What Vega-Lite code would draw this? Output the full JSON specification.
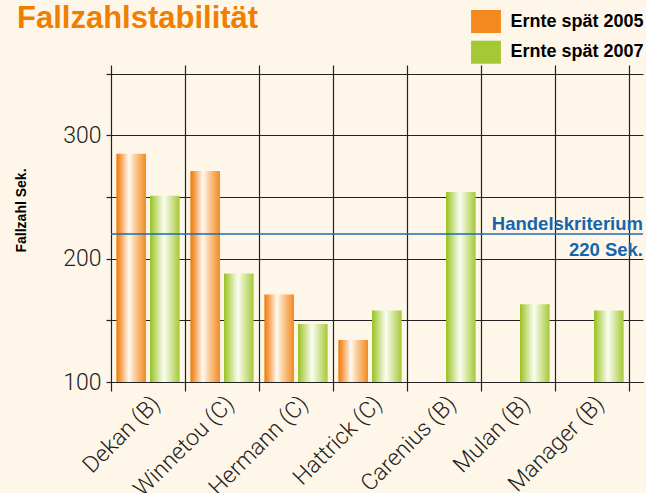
{
  "$schema": "https://vega.github.io/schema/vega-lite/v6.json",
  "autosize": {"type": "none"},
  "padding": {"left": 111, "top": 65, "right": 3, "bottom": 111},
  "width": 532,
  "height": 317,
  "background": "#fef7e9",
  "title": {
    "text": "Fallzahlstabilität",
    "anchor": "start",
    "frame": "group",
    "dx": -94,
    "offset": -49,
    "baseline": "alphabetic",
    "font": "Liberation Sans",
    "fontSize": 31,
    "fontWeight": "bold",
    "color": "#f07f00"
  },
  "config": {
    "view": {"stroke": null},
    "axis": {"gridColor": "#222222", "gridWidth": 1.2, "gridOpacity": 1, "tickColor": "#222222", "tickWidth": 1.2, "domainColor": "#222222", "domainWidth": 1.2}
  },
  "data": {
    "values": [
      {"Sorte": "Dekan (B)", "Jahr": "Ernte spät 2005", "Wert": 285},
      {"Sorte": "Dekan (B)", "Jahr": "Ernte spät 2007", "Wert": 251},
      {"Sorte": "Winnetou (C)", "Jahr": "Ernte spät 2005", "Wert": 271},
      {"Sorte": "Winnetou (C)", "Jahr": "Ernte spät 2007", "Wert": 188},
      {"Sorte": "Hermann (C)", "Jahr": "Ernte spät 2005", "Wert": 171},
      {"Sorte": "Hermann (C)", "Jahr": "Ernte spät 2007", "Wert": 147},
      {"Sorte": "Hattrick (C)", "Jahr": "Ernte spät 2005", "Wert": 134},
      {"Sorte": "Hattrick (C)", "Jahr": "Ernte spät 2007", "Wert": 158},
      {"Sorte": "Carenius (B)", "Jahr": "Ernte spät 2007", "Wert": 254},
      {"Sorte": "Mulan (B)", "Jahr": "Ernte spät 2007", "Wert": 163},
      {"Sorte": "Manager (B)", "Jahr": "Ernte spät 2007", "Wert": 158}
    ]
  },
  "encoding": {
    "x": {
      "field": "Sorte",
      "type": "nominal",
      "sort": null,
      "scale": {"paddingInner": 0, "paddingOuter": 0.0946, "align": 0},
      "axis": {
        "title": null,
        "labelAngle": -45,
        "labelFont": "Roboto",
        "labelFontWeight": 300,
        "labelFontSize": 23,
        "labelColor": "#222222",
        "labelPadding": 1,
        "tickBand": "extent",
        "tickSize": 9,
        "grid": true
      }
    },
    "xOffset": {
      "field": "Jahr",
      "type": "nominal",
      "scale": {"domain": ["Ernte spät 2005", "Ernte spät 2007"], "paddingInner": 0.12, "paddingOuter": 0.16}
    },
    "y": {
      "field": "Wert",
      "type": "quantitative",
      "scale": {"domain": [100, 357], "nice": false, "zero": false},
      "axis": {
        "title": "Fallzahl Sek.",
        "titleFont": "Liberation Sans",
        "titleFontSize": 14,
        "titleFontWeight": "bold",
        "titleColor": "#000000",
        "titleX": -86,
        "titleY": 145,
        "titleBaseline": "alphabetic",
        "values": [100, 150, 200, 250, 300, 350],
        "labelExpr": "(datum.value % 100 === 0 && datum.value < 350) ? datum.label : ''",
        "labelFont": "Roboto",
        "labelFontWeight": 300,
        "labelFontSize": 23,
        "labelColor": "#222222",
        "labelPadding": 5,
        "tickSize": 5,
        "domain": false,
        "grid": true
      }
    }
  },
  "layer": [
    {
      "transform": [{"filter": "datum.Jahr === 'Ernte spät 2005'"}],
      "mark": {
        "type": "bar",
        "color": {"gradient": "linear", "x1": 0, "y1": 0, "x2": 1, "y2": 0, "stops": [
          {"offset": 0, "color": "#f07800"},
          {"offset": 0.15, "color": "#f6a050"},
          {"offset": 0.42, "color": "#fffaf2"},
          {"offset": 0.62, "color": "#fbcf9f"},
          {"offset": 1, "color": "#f28a1e"}
        ]}
      },
      "encoding": {"y2": {"datum": 100}}
    },
    {
      "transform": [{"filter": "datum.Jahr === 'Ernte spät 2007'"}],
      "mark": {
        "type": "bar",
        "color": {"gradient": "linear", "x1": 0, "y1": 0, "x2": 1, "y2": 0, "stops": [
          {"offset": 0, "color": "#97c11f"},
          {"offset": 0.2, "color": "#c3dc7a"},
          {"offset": 0.47, "color": "#fbfdf3"},
          {"offset": 0.7, "color": "#d6e7a2"},
          {"offset": 1, "color": "#a5c836"}
        ]}
      },
      "encoding": {"y2": {"datum": 100}}
    },
    {
      "mark": {"type": "square", "opacity": 0, "size": 1},
      "encoding": {
        "color": {
          "field": "Jahr",
          "type": "nominal",
          "scale": {"domain": ["Ernte spät 2005", "Ernte spät 2007"], "range": ["#f28a1e", "#a5c836"]},
          "legend": {
            "title": null,
            "orient": "none",
            "legendX": 363.5,
            "legendY": -55,
            "padding": 0,
            "symbolType": "M-1.3,-1H1.3V1H-1.3Z",
            "symbolSize": 529,
            "symbolStrokeWidth": 0,
            "symbolOpacity": 1,
            "rowPadding": 7.7,
            "labelOffset": 13,
            "labelFont": "Liberation Sans",
            "labelFontSize": 18,
            "labelFontWeight": "bold",
            "labelColor": "#000000",
            "labelLimit": 300
          }
        }
      }
    },
    {
      "data": {"values": [{"Kriterium": 220}]},
      "mark": {"type": "rule", "color": "#1f6bb0", "strokeWidth": 1.5},
      "encoding": {"y": {"field": "Kriterium", "type": "quantitative"}, "x": null, "xOffset": null}
    },
    {
      "data": {"values": [{"Kriterium": 220, "Label": "Handelskriterium\n220 Sek."}]},
      "mark": {
        "type": "text",
        "align": "right",
        "baseline": "alphabetic",
        "dy": -4.4,
        "lineBreak": "\n",
        "lineHeight": 26.7,
        "font": "Liberation Sans",
        "fontSize": 18.5,
        "fontWeight": "bold",
        "color": "#1565ad"
      },
      "encoding": {
        "y": {"field": "Kriterium", "type": "quantitative"},
        "x": {"value": {"expr": "width"}},
        "xOffset": null,
        "text": {"field": "Label"}
      }
    }
  ]
}
